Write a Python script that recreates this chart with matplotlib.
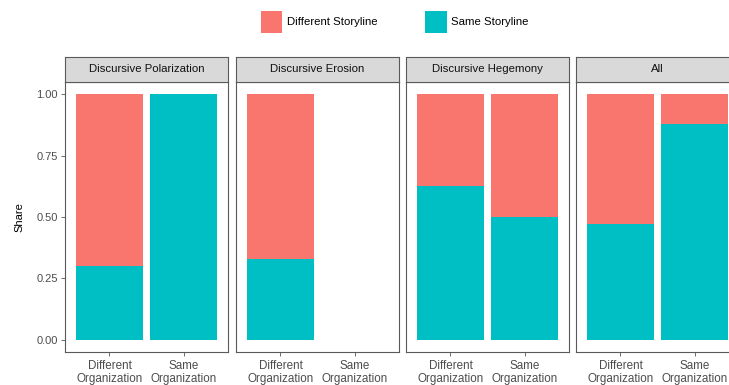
import matplotlib
matplotlib.use("Agg")
import matplotlib.pyplot as plt
from matplotlib.patches import Patch

plt.rcParams['font.family'] = ['Liberation Sans', 'DejaVu Sans']

# Data
facets = ["Discursive Polarization", "Discursive Erosion", "Discursive Hegemony", "All"]
categories = ["Different\nOrganization", "Same\nOrganization"]
# share of "Same Storyline" per facet and category (None = no observations)
same_share = [
    [0.30, 1.00],
    [0.33, None],
    [0.625, 0.50],
    [0.47, 0.88],
]
series = ["Different Storyline", "Same Storyline"]
colors = {"Different Storyline": "#F8766D", "Same Storyline": "#00BFC4"}
yticks = [0.00, 0.25, 0.50, 0.75, 1.00]
ytick_labels = ["0.00", "0.25", "0.50", "0.75", "1.00"]

W, H = 729, 385
fig = plt.figure(figsize=(W / 100, H / 100), dpi=100)

def px_axes(x0, y0, x1, y1):
    return fig.add_axes([x0 / W, 1 - y1 / H, (x1 - x0) / W, (y1 - y0) / H])

panel_left = [65, 236, 406, 576]
panel_w = 163
panel_top, panel_bot = 82, 352
strip_top = 57
border = "#5a5a5a"
text_col = "#4D4D4D"

for i, (name, shares) in enumerate(zip(facets, same_share)):
    x0 = panel_left[i]
    ax = px_axes(x0, panel_top, x0 + panel_w, panel_bot)
    xs = range(len(categories))
    for j, s in enumerate(shares):
        if s is None:
            continue
        ax.bar(j, s, width=0.9, color=colors["Same Storyline"], linewidth=0)
        ax.bar(j, 1 - s, bottom=s, width=0.9, color=colors["Different Storyline"], linewidth=0)
    ax.set_xlim(-0.6, 1.6)
    ax.set_ylim(-0.05, 1.05)
    ax.set_xticks(list(xs))
    ax.set_xticklabels(categories, fontsize=8.4, color=text_col, linespacing=1.05)
    ax.set_yticks(yticks)
    if i == 0:
        ax.set_yticklabels(ytick_labels, fontsize=8.0, color=text_col)
        ax.set_ylabel("Share", fontsize=8.0, color="black", labelpad=9)
    else:
        ax.tick_params(axis="y", left=False, labelleft=False)
    ax.tick_params(length=3, width=0.6, color="#555555")
    ax.tick_params(axis="x", pad=3)
    ax.tick_params(axis="y", pad=2)
    for sp in ax.spines.values():
        sp.set_color(border)
        sp.set_linewidth(0.8)
    ax.set_facecolor("white")

    sax = px_axes(x0, strip_top, x0 + panel_w, panel_top)
    sax.set_facecolor("#D9D9D9")
    sax.set_xticks([])
    sax.set_yticks([])
    for sp in sax.spines.values():
        sp.set_color(border)
        sp.set_linewidth(0.8)
    sax.text(0.5, 0.5, name, ha="center", va="center", fontsize=8.2,
             color="#111111", transform=sax.transAxes)

handles = [Patch(facecolor=colors[s], edgecolor="none", label=s) for s in series]
fig.legend(handles=handles, loc="center", bbox_to_anchor=(395 / W, 1 - 22 / H),
           ncol=2, frameon=False, fontsize=8.2, handlelength=1.85, handleheight=2.6,
           handletextpad=0.4, columnspacing=4.2)

fig.savefig("out.png", dpi=100)
